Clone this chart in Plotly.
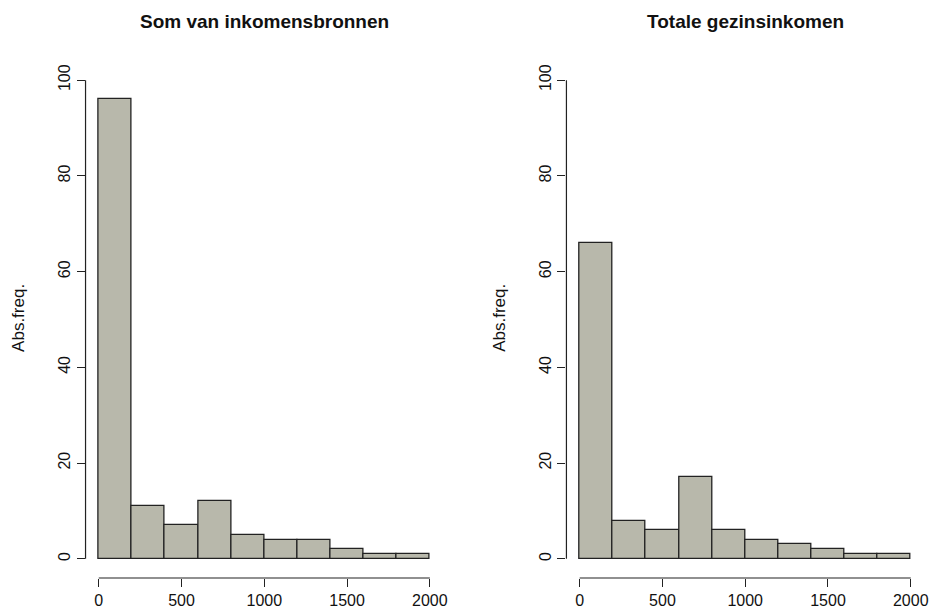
import plotly.graph_objects as go

bin_edges = [0, 200, 400, 600, 800, 1000, 1200, 1400, 1600, 1800, 2000]
som_counts = [96, 11, 7, 12, 5, 4, 4, 2, 1, 1]
totaal_counts = [66, 8, 6, 17, 6, 4, 3, 2, 1, 1]
titles = ["Som van inkomensbronnen", "Totale gezinsinkomen"]
y_label = "Abs.freq."
x_ticks = [0, 500, 1000, 1500, 2000]
y_ticks = [0, 20, 40, 60, 80, 100]

W, H = 929, 613
FONT = "Liberation Sans, Arial, sans-serif"
bar_color = "#B8B8AB"

centers = [(a + b) / 2 for a, b in zip(bin_edges[:-1], bin_edges[1:])]
widths = [b - a for a, b in zip(bin_edges[:-1], bin_edges[1:])]

def px(v):
    return v / W

def py(v):
    return 1 - v / H

fig = go.Figure()
doms_x = [(px(86), px(445.5)), (px(569.5), 1.0)]
dom_y = (py(578), py(61))

for i, counts in enumerate([som_counts, totaal_counts]):
    xa = "x" if i == 0 else "x2"
    ya = "y" if i == 0 else "y2"
    fig.add_trace(go.Bar(x=centers, y=counts, width=widths, xaxis=xa, yaxis=ya,
                         marker=dict(color=bar_color, line=dict(color="#222222", width=1.3)),
                         showlegend=False, hoverinfo="x+y"))
    sfx = "" if i == 0 else str(i + 1)
    fig.layout["xaxis" + sfx] = dict(domain=doms_x[i], range=[-80, 2080], anchor=ya,
                                    showgrid=False, zeroline=False, showline=False,
                                    tickmode="array", tickvals=x_ticks,
                                    ticks="outside", ticklen=8, tickwidth=1.2, tickcolor="#222",
                                    tickfont=dict(family=FONT, size=16, color="#111"))
    fig.layout["yaxis" + sfx] = dict(domain=dom_y, range=[-4, 104], anchor=xa,
                                    showgrid=False, zeroline=False, showline=False,
                                    tickmode="array", tickvals=y_ticks,
                                    ticks="outside", ticklen=8, tickwidth=1.2, tickcolor="#222",
                                    tickangle=-90,
                                    tickfont=dict(family=FONT, size=16, color="#111"))
    # detached axis lines (R style)
    fig.add_shape(type="line", xref=xa, yref=ya + " domain", x0=x_ticks[0], x1=x_ticks[-1], y0=0, y1=0,
                  line=dict(color="#222", width=1.2))
    fig.add_shape(type="line", xref=xa + " domain", yref=ya, x0=0, x1=0, y0=y_ticks[0], y1=y_ticks[-1],
                  line=dict(color="#222", width=1.2))
    cx = (doms_x[i][0] + doms_x[i][1]) / 2
    fig.add_annotation(text="<b>" + titles[i] + "</b>", xref="paper", yref="paper",
                       x=cx, y=py(21), showarrow=False, xanchor="center", yanchor="middle",
                       font=dict(family=FONT, size=19, color="#111"))
    fig.add_annotation(text=y_label, xref="paper", yref="paper",
                       x=doms_x[i][0] - 68 / W, y=py(318), textangle=-90, showarrow=False,
                       xanchor="center", yanchor="middle",
                       font=dict(family=FONT, size=17, color="#111"))

fig.update_layout(width=W, height=H, margin=dict(l=0, r=0, t=0, b=0),
                  paper_bgcolor="white", plot_bgcolor="white", bargap=0)
fig.write_html("out.html", config={"displayModeBar": False},
               post_script="document.body.style.margin='0';document.body.style.overflow='hidden';")
